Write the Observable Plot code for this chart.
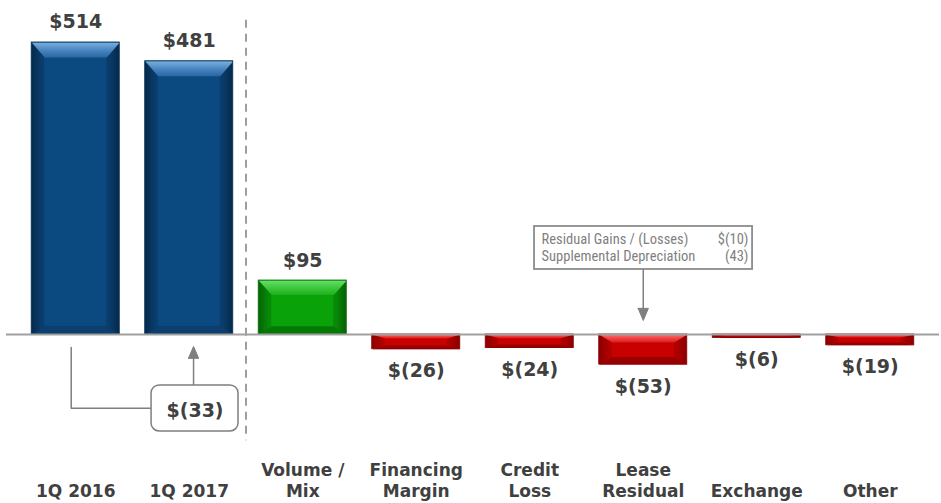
<!DOCTYPE html>
<html><head><meta charset="utf-8">
<script src="https://cdn.jsdelivr.net/npm/d3@7"></script>
<script src="https://cdn.jsdelivr.net/npm/@observablehq/plot@0.6"></script>
<style>body{margin:0;background:#fff}</style>
</head><body>
<svg width="0" height="0" style="position:absolute">
  <defs>
    <linearGradient id="topTotal" x1="0" y1="0" x2="0" y2="1"><stop offset="0" stop-color="#7ab0e0"/><stop offset="0.5" stop-color="#4a86c2"/><stop offset="1" stop-color="#2a66a2"/></linearGradient>
    <linearGradient id="topUp" x1="0" y1="0" x2="0" y2="1"><stop offset="0" stop-color="#6ade6a"/><stop offset="0.5" stop-color="#3cc83c"/><stop offset="1" stop-color="#1cb01c"/></linearGradient>
    <linearGradient id="topDown" x1="0" y1="0" x2="0" y2="1"><stop offset="0" stop-color="#ff7070"/><stop offset="0.5" stop-color="#f04040"/><stop offset="1" stop-color="#dc1a1a"/></linearGradient>
    <linearGradient id="sideTotal" x1="0" y1="0" x2="1" y2="0"><stop offset="0" stop-color="#05294b"/><stop offset="0.12" stop-color="#0a3d6c"/><stop offset="0.88" stop-color="#0a3d6c"/><stop offset="1" stop-color="#05294b"/></linearGradient>
    <linearGradient id="sideUp" x1="0" y1="0" x2="1" y2="0"><stop offset="0" stop-color="#056205"/><stop offset="0.12" stop-color="#088a08"/><stop offset="0.88" stop-color="#088a08"/><stop offset="1" stop-color="#056205"/></linearGradient>
    <linearGradient id="sideDown" x1="0" y1="0" x2="1" y2="0"><stop offset="0" stop-color="#8a0000"/><stop offset="0.12" stop-color="#b00000"/><stop offset="0.88" stop-color="#b00000"/><stop offset="1" stop-color="#8a0000"/></linearGradient>
  </defs>
</svg>
<div id="chart"></div>
<script>
// ---- data ----
const categories = ["1Q 2016", "1Q 2017", "Volume /\nMix", "Financing\nMargin", "Credit\nLoss", "Lease\nResidual", "Exchange", "Other"];
const values = [514, 481, 95, -26, -24, -53, -6, -19];
const kinds = ["total", "total", "up", "down", "down", "down", "down", "down"];
const valueLabels = ["$514", "$481", "$95", "$(26)", "$(24)", "$(53)", "$(6)", "$(19)"];
const calloutLines = ["Residual Gains / (Losses)", "Supplemental Depreciation"];
const calloutValues = ["$(10)", "(43)"];
const changeLabel = ["$(33)"];

const rows = categories.map((c, i) => ({i, c, v: values[i], kind: kinds[i], label: valueLabels[i]}));

// ---- layout of the scales ----
const W = 941, H = 503, ML = 6, MR = 2, MT = 0, MB = 7;
const xDomain = [-0.61, 7.61], yDomain = [-285.2, 587.9];
const pxX = (xDomain[1] - xDomain[0]) / (W - ML - MR);   // data units per pixel
const pxY = (yDomain[1] - yDomain[0]) / (H - MT - MB);

const palettes = {
  total: {side: "url(#sideTotal)", top: "url(#topTotal)", bottom: "#0c3f6e", face: "#0b4a81", stroke: "#07325a"},
  up:    {side: "url(#sideUp)", top: "url(#topUp)", bottom: "#067806", face: "#09a209", stroke: "#067006"},
  down:  {side: "url(#sideDown)", top: "url(#topDown)", bottom: "#980000", face: "#c80000", stroke: "#8e0000"}
};
const hw = 0.388;
const barTop = r => Math.max(0, r.v), barBot = r => Math.min(0, r.v);
const tBev = r => Math.min(Math.abs(r.v) * 0.27, 15 * pxY);
const bBev = r => Math.min(Math.abs(r.v) * 0.24, 8 * pxY);
const sBev = 13 * pxX;

function barMarks(kind) {
  const p = palettes[kind];
  const d = rows.filter(r => r.kind === kind);
  const X = {x1: r => r.i - hw, x2: r => r.i + hw};
  const topPoly = d.flatMap(r => [
    {id: r.i, x: r.i - hw, y: barTop(r)}, {id: r.i, x: r.i + hw, y: barTop(r)},
    {id: r.i, x: r.i + hw - sBev, y: barTop(r) - tBev(r)}, {id: r.i, x: r.i - hw + sBev, y: barTop(r) - tBev(r)}
  ]);
  const botPoly = d.flatMap(r => [
    {id: r.i, x: r.i - hw, y: barBot(r)}, {id: r.i, x: r.i + hw, y: barBot(r)},
    {id: r.i, x: r.i + hw - sBev, y: barBot(r) + bBev(r)}, {id: r.i, x: r.i - hw + sBev, y: barBot(r) + bBev(r)}
  ]);
  return [
    Plot.rect(d, {...X, y1: 0, y2: "v", fill: p.side}),
    Plot.rect(d, {...X, y1: r => barBot(r) + bBev(r), y2: r => barTop(r) - tBev(r), fill: p.face, insetLeft: 13, insetRight: 13}),
    Plot.line(botPoly, {x: "x", y: "y", z: "id", fill: p.bottom, stroke: "none"}),
    Plot.line(topPoly, {x: "x", y: "y", z: "id", fill: p.top, stroke: "none"}),
    Plot.rect(d, {...X, y1: 0, y2: "v", fill: "none", stroke: p.stroke, strokeWidth: 0.8})
  ];
}

const gray = "#7f7f7f";
const ink = "#404040";
function head(x, tip, base) {
  return Plot.line([[x - 0.045, base], [x, tip], [x + 0.045, base], [x - 0.045, base]], {fill: gray, stroke: gray, strokeWidth: 1});
}
const narrow = "'Liberation Sans Narrow', 'Arial Narrow', 'Roboto Condensed', 'Liberation Sans'";

const chart = Plot.plot({
  width: W, height: H,
  marginLeft: ML, marginRight: MR, marginTop: MT, marginBottom: MB,
  x: {domain: xDomain, axis: null},
  y: {domain: yDomain, axis: null},
  style: {fontFamily: "DejaVu Sans", background: "white", overflow: "visible"},
  marks: [
    Plot.ruleX([1.5], {y1: 553, y2: -187, stroke: gray, strokeWidth: 1.5, strokeDasharray: "8,6"}),
    ...barMarks("total"), ...barMarks("up"), ...barMarks("down"),
    Plot.ruleY([0], {stroke: "#a0a0a0", strokeWidth: 2}),
    Plot.text(rows.filter(r => r.v > 0), {x: "i", y: "v", text: "label", lineAnchor: "bottom", dy: -14, fontSize: 19, fontWeight: "bold", fill: ink}),
    Plot.text(rows.filter(r => r.v < 0), {x: "i", y: "v", text: "label", lineAnchor: "bottom", dy: 28, fontSize: 19, fontWeight: "bold", fill: ink}),
    Plot.text(rows, {x: "i", text: "c", frameAnchor: "bottom", lineAnchor: "bottom", lineHeight: 1.18, fontSize: 17, fontWeight: "bold", fill: ink}),
    Plot.line([[-0.04, -23], [-0.04, -130], [0.668, -130]], {stroke: gray, strokeWidth: 1.5}),
    Plot.ruleX([1.038], {y1: -89.8, y2: -40, stroke: gray, strokeWidth: 1.5}),
    head(1.038, -21, -42),
    Plot.rect([0], {x1: 0.668, x2: 1.434, y1: -170.7, y2: -89.8, rx: 8, fill: "white", stroke: gray, strokeWidth: 1.5}),
    Plot.text(changeLabel, {x: 1.051, y: -146, text: d => d, lineAnchor: "bottom", fontSize: 19, fontWeight: "bold", fill: ink}),
    Plot.rect([0], {x1: 4.042, x2: 5.963, y1: 114.4, y2: 190.1, fill: "white", stroke: "#8c8c8c", strokeWidth: 1.8}),
    Plot.ruleX([5.0], {y1: 114.4, y2: 44, stroke: gray, strokeWidth: 1.5}),
    head(5.0, 24.6, 46),
    Plot.text(calloutLines, {x: 4.104, y: (d, i) => [158.4, 128.5][i], text: d => d, textAnchor: "start", lineAnchor: "bottom", fontSize: 14.5, fill: gray, fontFamily: narrow}),
    Plot.text(calloutValues, {x: 5.927, y: (d, i) => [158.4, 128.5][i], text: d => d, textAnchor: "end", lineAnchor: "bottom", fontSize: 14.5, fill: gray, fontFamily: narrow})
  ]
});
document.getElementById("chart").appendChild(chart);
</script>
</body></html>
